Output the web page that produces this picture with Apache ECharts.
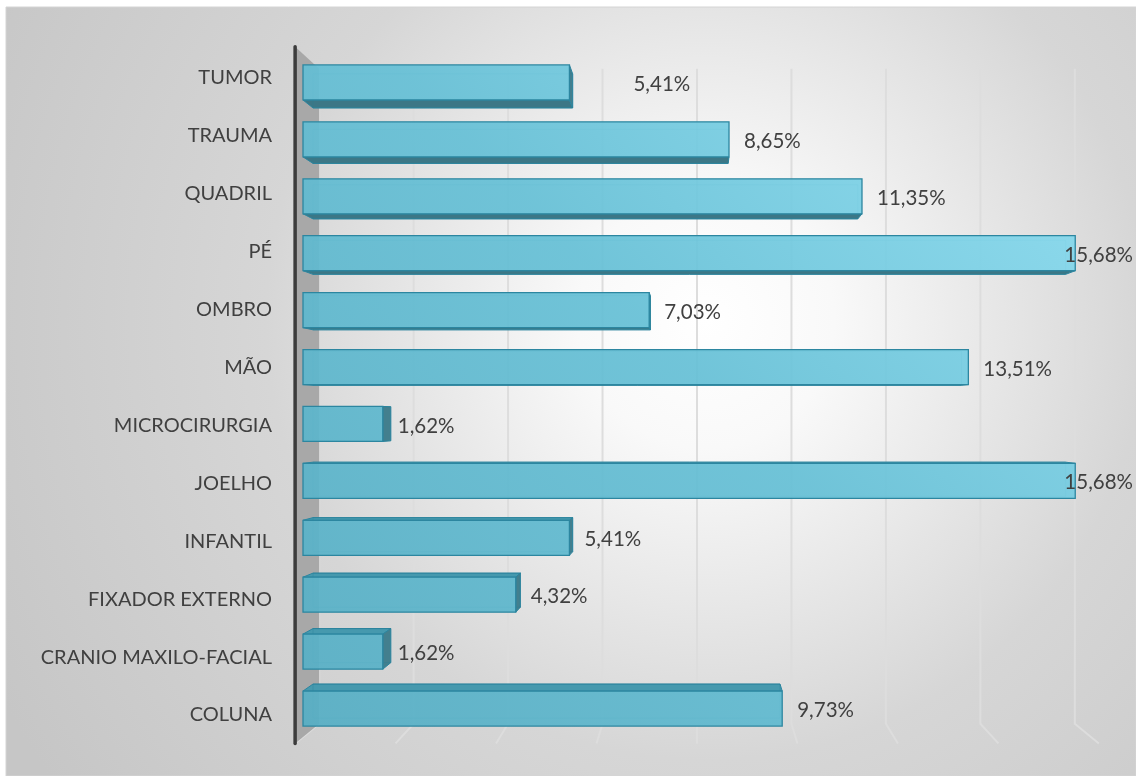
<!DOCTYPE html>
<html>
<head>
<meta charset="utf-8">
<script src="https://cdn.jsdelivr.net/npm/echarts@6/dist/echarts.min.js"></script>
<style>
  html, body { margin: 0; padding: 0; background: #ffffff; }
  #chart { width: 1136px; height: 776px; }
</style>
</head>
<body>
<div id="chart"></div>
<script>
// Share of cases per specialty (%)
const categories = ['TUMOR', 'TRAUMA', 'QUADRIL', 'PÉ', 'OMBRO', 'MÃO', 'MICROCIRURGIA',
  'JOELHO', 'INFANTIL', 'FIXADOR EXTERNO', 'CRANIO MAXILO-FACIAL', 'COLUNA'];
const shares = [5.41, 8.65, 11.35, 15.68, 7.03, 13.51, 1.62, 15.68, 5.41, 4.32, 1.62, 9.73];
const xTicks = [0, 2, 4, 6, 8, 10, 12, 14, 16];

const FONT = 'Lato, "Open Sans", sans-serif';
const TEXT = '#404040';

// Depth planes of the 3-D box, as scale factors toward the vanishing point
const K_WALL = 0.959;        // back wall with the gridlines
const K_BAR_BACK = 0.9746;   // rear face of each bar
const K_FRONT = 1.02;        // front edge of floor and side wall
const VP_VALUE = 8;          // vanishing point, in axis units
const VP_ROW = 5.84;
const LABEL_NUDGE = { 'TUMOR': 49 };

function frame(api) {
  const c0 = api.coord([0, 0]);
  const band = api.size([0, 1])[1];
  const vx = api.coord([VP_VALUE, 0])[0];
  const vy = c0[1] + VP_ROW * band;
  const proj = (p, k) => [vx + (p[0] - vx) * k, vy + (p[1] - vy) * k];
  return {
    band, proj,
    top: c0[1] - band / 2,
    bottom: c0[1] + (categories.length - 0.5) * band
  };
}

const fmt = v => v.toFixed(2).replace('.', ',') + '%';

const chart = echarts.init(document.getElementById('chart'), null, { renderer: 'canvas' });

const option = {
  animation: false,
  graphic: {
    elements: [
      {
        type: 'rect', z: -100, silent: true,
        shape: { x: 6, y: 7, width: 1130, height: 769 },
        style: {
          fill: {
            type: 'radial', x: 706, y: 320, r: 800, global: true,
            colorStops: [
              { offset: 0, color: '#ffffff' },
              { offset: 0.16, color: '#f9f9f9' },
              { offset: 0.55, color: '#d6d6d6' },
              { offset: 1, color: '#c6c6c6' }
            ]
          },
          stroke: '#d4d4d4', lineWidth: 1
        }
      }
    ]
  },
  grid: [
    { left: 303, right: 45, top: 54, bottom: 39 },
    { left: 285, width: 1, top: 49, bottom: 32 }
  ],
  xAxis: [
    { type: 'value', gridIndex: 0, min: 0, max: 16, interval: 2, show: false },
    { type: 'value', gridIndex: 1, show: false }
  ],
  yAxis: [
    { type: 'category', gridIndex: 0, data: categories, inverse: true, show: false },
    {
      type: 'category', gridIndex: 1, data: categories, inverse: true,
      axisLine: { show: false }, axisTick: { show: false }, splitLine: { show: false },
      axisLabel: { margin: 13, fontSize: 20, color: TEXT, fontFamily: FONT }
    }
  ],
  series: [
    // back-wall gridlines and their floor continuation
    {
      type: 'custom', xAxisIndex: 0, yAxisIndex: 0, z: 1, silent: true,
      data: xTicks.map(t => [t, 0]),
      encode: { x: 0, y: 1 },
      renderItem(params, api) {
        const f = frame(api);
        const x = api.coord([api.value(0), 0])[0];
        const a = f.proj([x, f.top], K_WALL);
        const b = f.proj([x, f.bottom], K_WALL);
        const c = f.proj([x, f.bottom], K_FRONT);
        return {
          type: 'polyline',
          shape: { points: [a, b, c] },
          style: { stroke: '#dddddd', lineWidth: 2, fill: null }
        };
      }
    },
    // left side wall of the category axis
    {
      type: 'custom', xAxisIndex: 0, yAxisIndex: 0, z: 2, silent: true,
      data: [[0, 0]],
      encode: { x: 0, y: 1 },
      renderItem(params, api) {
        const f = frame(api);
        const x = api.coord([0, 0])[0];
        const ft = f.proj([x, f.top], K_FRONT), fb = f.proj([x, f.bottom], K_FRONT);
        const bt = f.proj([x, f.top], K_WALL), bb = f.proj([x, f.bottom], K_WALL);
        return {
          type: 'group',
          children: [
            { type: 'polygon', shape: { points: [ft, bt, bb, fb] }, style: { fill: '#a8a8a8' } },
            { type: 'line', shape: { x1: ft[0], y1: ft[1], x2: fb[0], y2: fb[1] },
              style: { stroke: '#3c3c3c', lineWidth: 3.5, lineCap: 'round' } }
          ]
        };
      }
    },
    // 3-D bars with value labels
    {
      type: 'custom', xAxisIndex: 0, yAxisIndex: 0, z: 3, silent: true,
      data: shares.map((v, i) => [v, i]),
      encode: { x: 0, y: 1 },
      renderItem(params, api) {
        const f = frame(api);
        const v = api.value(0), i = api.value(1);
        const x0 = api.coord([0, i])[0];
        const p = api.coord([v, i]);
        const x1 = p[0], cy = p[1];
        const h = f.band * 0.615 / 2;
        const FTL = [x0, cy - h], FTR = [x1, cy - h], FBR = [x1, cy + h], FBL = [x0, cy + h];
        const k = K_BAR_BACK;
        const BTL = f.proj(FTL, k), BTR = f.proj(FTR, k), BBR = f.proj(FBR, k), BBL = f.proj(FBL, k);
        const edge = '#2c86a0';
        const children = [];
        if (BBL[1] > FBL[1] + 0.5) {
          children.push({ type: 'polygon', shape: { points: [FBL, FBR, BBR, BBL] },
            style: { fill: '#3c7786', stroke: edge, lineWidth: 1 } });
        }
        if (BTL[1] < FTL[1] - 0.5) {
          children.push({ type: 'polygon', shape: { points: [FTL, FTR, BTR, BTL] },
            style: { fill: '#4699ae', stroke: edge, lineWidth: 1 } });
        }
        if (BTR[0] > FTR[0] + 0.3) {
          children.push({ type: 'polygon', shape: { points: [FTR, BTR, BBR, FBR] },
            style: { fill: '#437f8e', stroke: edge, lineWidth: 1 } });
        }
        // rear edges showing through the translucent front face
        children.push({ type: 'polyline', shape: { points: [BBL, BTL, BTR, BBR, BBL] },
          style: { stroke: 'rgba(40,125,150,0.35)', lineWidth: 1, fill: null } });
        children.push({
          type: 'rect',
          shape: { x: x0, y: cy - h, width: x1 - x0, height: 2 * h },
          style: {
            fill: {
              type: 'linear', global: true, x: 303, y: 737, x2: 1000, y2: 54,
              colorStops: [
                { offset: 0, color: 'rgba(86,174,196,0.93)' },
                { offset: 0.55, color: 'rgba(102,192,214,0.93)' },
                { offset: 1, color: 'rgba(138,220,240,0.93)' }
              ]
            },
            stroke: edge, lineWidth: 1.3
          }
        });
        let lx = x1 + 15 + (LABEL_NUDGE[categories[i]] || 0);
        let align = 'left';
        const right = api.getWidth() - 3;
        if (lx + 68 > right) { lx = right; align = 'right'; }
        children.push({
          type: 'text', z2: 10,
          style: {
            x: lx, y: cy + 2, text: fmt(v), fill: TEXT,
            fontSize: 20.5, fontFamily: FONT, align: align, verticalAlign: 'middle'
          }
        });
        return { type: 'group', children };
      }
    }
  ]
};

chart.setOption(option);
</script>
</body>
</html>
